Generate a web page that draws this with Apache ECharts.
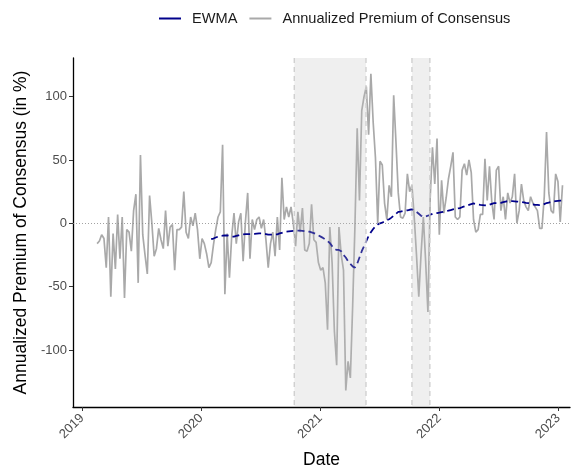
<!DOCTYPE html>
<html>
<head>
<meta charset="utf-8">
<script src="https://cdn.jsdelivr.net/npm/echarts@6/dist/echarts.min.js"></script>
<style>
  html, body { margin: 0; padding: 0; background: #fff; }
  #chart { width: 576px; height: 468px; }
</style>
</head>
<body>
<div id="chart"></div>
<script>
// weekly observations, first week of the series
var firstWeek = [2019, 1, 16];

// annualized premium of consensus (in %), one value per week
var premium = [
  -16, -14, -9, -12, -35, 5, -58, -8, -36, 7,
  -28, 5, -59, -5, -7, -22, 10, 23, -47, 54,
  -9, -25, -40, 22, 0, -26, -20, -4, -13, -20,
  10, -18, -3, -1, -37, -5, -5, -3, 25, -7,
  -12, 5, -2, 8, -5, -28, -12, -16, -24, -35,
  -31, -17, -5, 5, 9, 62, -56, -8, -43, -10,
  8, -16, 1, 8, -30, 1, 24, -28, 3, -5,
  3, 5, -4, 3, -13, -35, -16, -7, -26, 5,
  -21, 36, 3, 13, 5, 13, 0, -18, 9, -7,
  12, -21, -22, -16, 15,
  -13, -15, -31, -37, -35, -47, -84, -3, -31, -85,
  -112, -3, -25, -37, -132, -109, -122, -66, -3, 75,
  18, 89, 100, 108, 70, 118, 80, 52, 0, 49,
  46, 16, 3, 30, 21, 101, 64, 24, 5, 4,
  8, 39, 25,
  30, 5, -25, -58, -24, 5, -30, -70, 20, 60,
  31, 67, -9, 34, 8, 20, 35, 45, 56, 5,
  3, 5, 42, 47, 38, 50, 40, 3, -7, -5,
  7, 7, 51, 18, 45, 17, 3, 42, 45, 10,
  21, 3, 24, 16, 21, 39, 0, 10, 31, 18,
  13, 10, 21, 16, 13, 10, -4, -4, 21, 72,
  24, 10, 8, 39, 33, 1, 30
];

// EWMA starts at week 50 of the series
var ewmaStartWeek = 50;
var ewma = [
  -12.5, -12, -11.2, -10.5, -10, -9.8, -9.6, -9.5, -10, -10.5,
  -10.5, -10, -9.5, -9, -8.7, -8.6, -8.5, -8.5, -8.4, -8.4,
  -8.2, -8, -8, -8, -8.5, -9, -9, -9, -8.8, -8.7,
  -8, -7.5, -7, -6.6, -6.4, -6.2, -6, -5.9, -5.8, -5.8,
  -6, -6.2, -6.4, -6.6, -7.2, -7.8, -8.5, -9.5, -10.5, -11.5,
  -12.8, -14, -15.5, -18, -20, -21, -21, -22, -25, -27,
  -30, -32, -34, -35, -32, -27, -22, -18, -14, -10,
  -7, -4.5, -2.5, -1, 0, 0.5, 1.5, 2.5, 3.2, 4.5,
  6, 7.5, 9, 9.3, 9.7, 10, 10.3, 10.7, 11, 10,
  9, 7.5, 6, 5, 5.5, 6, 6.8, 7.5, 7.8, 8.1,
  8.4, 8.8, 9.2, 9.5, 10, 10.5, 11, 11.3, 11.7, 12,
  12.7, 13.3, 14, 14.6, 15.2, 15.7, 15.3, 14.9, 14.6, 14.4,
  14.2, 14, 14.7, 15.4, 16, 16, 16, 16.2, 16.7, 17.2,
  17.5, 17.5, 17.5, 17.4, 17.2, 17, 16.8, 16.5, 16.2, 16,
  15.5, 15, 14.6, 14.5, 14.4, 14.4, 15.2, 16, 16.4, 16.8,
  17.2, 17.5, 17.7, 17.9, 18
];

// shaded periods
var periods = [
  [[2020, 9, 13], [2021, 4, 21]],
  [[2021, 9, 9], [2021, 11, 3]]
];

var yearTicks = [2019, 2020, 2021, 2022, 2023];
var valueTicks = [-100, -50, 0, 50, 100];
var yMin = -145, yMax = 130.5;

function ts(d) { return new Date(d[0], d[1], d[2]).getTime(); }

var dates = [];
for (var i = 0; i < premium.length; i++) {
  dates.push(ts([firstWeek[0], firstWeek[1], firstWeek[2] + 7 * i]));
}
var premiumData = premium.map(function (v, i) { return [dates[i], v]; });
var ewmaData = ewma.map(function (v, i) { return [dates[ewmaStartWeek + i], v]; });
var yearValues = yearTicks.map(function (y) { return ts([y, 0, 1]); });
var periodData = periods.map(function (p) { return [ts(p[0]), ts(p[1])]; });

function renderShade(params, api) {
  var a = api.coord([api.value(0), yMax]);
  var b = api.coord([api.value(1), yMin]);
  var edge = { stroke: '#d0d0d0', lineWidth: 1.4, lineDash: [5, 4] };
  return {
    type: 'group',
    children: [
      { type: 'rect', shape: { x: a[0], y: a[1], width: b[0] - a[0], height: b[1] - a[1] },
        style: { fill: 'rgba(190,190,190,0.25)' } },
      { type: 'line', shape: { x1: a[0], y1: a[1], x2: a[0], y2: b[1] }, style: edge },
      { type: 'line', shape: { x1: b[0], y1: a[1], x2: b[0], y2: b[1] }, style: edge }
    ]
  };
}

var font = 'Liberation Sans, Arial, sans-serif';
var chart = echarts.init(document.getElementById('chart'));
var option = {
  animation: false,
  textStyle: { fontFamily: font },
  legend: {
    top: 6,
    left: 154,
    itemWidth: 22,
    itemHeight: 2,
    itemGap: 12,
    icon: 'rect',
    textStyle: { fontSize: 14.6, color: '#1a1a1a', fontFamily: font, padding: [0, 0, 0, 6] },
    data: ['EWMA', 'Annualized Premium of Consensus']
  },
  grid: { left: 73, right: 6, top: 58, bottom: 61, outerBoundsMode: 'none', containLabel: false },
  xAxis: {
    type: 'value',
    min: ts([2018, 11, 4]),
    max: ts([2023, 1, 6]),
    name: 'Date',
    nameLocation: 'middle',
    nameGap: 44,
    nameTextStyle: { fontSize: 17.5, color: '#000', fontFamily: font },
    axisLine: { onZero: false, lineStyle: { color: '#000', width: 1.3 } },
    axisTick: { length: 4, lineStyle: { color: '#333' }, customValues: yearValues },
    axisLabel: {
      rotate: 45,
      fontSize: 13,
      color: '#4d4d4d',
      margin: 9,
      customValues: yearValues,
      formatter: function (v) { return String(new Date(v).getFullYear()); }
    },
    splitLine: { show: false }
  },
  yAxis: {
    type: 'value',
    min: yMin,
    max: yMax,
    name: 'Annualized Premium of Consensus (in %)',
    nameLocation: 'middle',
    nameGap: 37,
    nameTextStyle: { fontSize: 17.5, color: '#000', fontFamily: font },
    axisLine: { show: true, onZero: false, lineStyle: { color: '#000', width: 1.3 } },
    axisTick: { show: true, length: 4, lineStyle: { color: '#333' }, customValues: valueTicks },
    axisLabel: { fontSize: 13, color: '#4d4d4d', margin: 6, customValues: valueTicks },
    splitLine: { show: false }
  },
  series: [
    {
      name: 'Annualized Premium of Consensus',
      type: 'line',
      data: premiumData,
      color: '#a9a9a9',
      showSymbol: false,
      lineStyle: { color: '#a9a9a9', width: 1.7 },
      z: 2,
      markLine: {
        silent: true,
        symbol: 'none',
        label: { show: false },
        lineStyle: { color: '#8a8a8a', type: [1, 2], width: 0.8 },
        data: [{ yAxis: 0 }]
      }
    },
    {
      name: 'EWMA',
      type: 'line',
      data: ewmaData,
      color: '#00008b',
      showSymbol: false,
      lineStyle: { color: '#00008b', width: 1.8, type: [7, 4] },
      z: 3
    },
    {
      name: 'shade',
      type: 'custom',
      silent: true,
      data: periodData,
      encode: { x: [0, 1] },
      renderItem: renderShade,
      z: 10
    }
  ]
};
chart.setOption(option);
</script>
</body>
</html>
